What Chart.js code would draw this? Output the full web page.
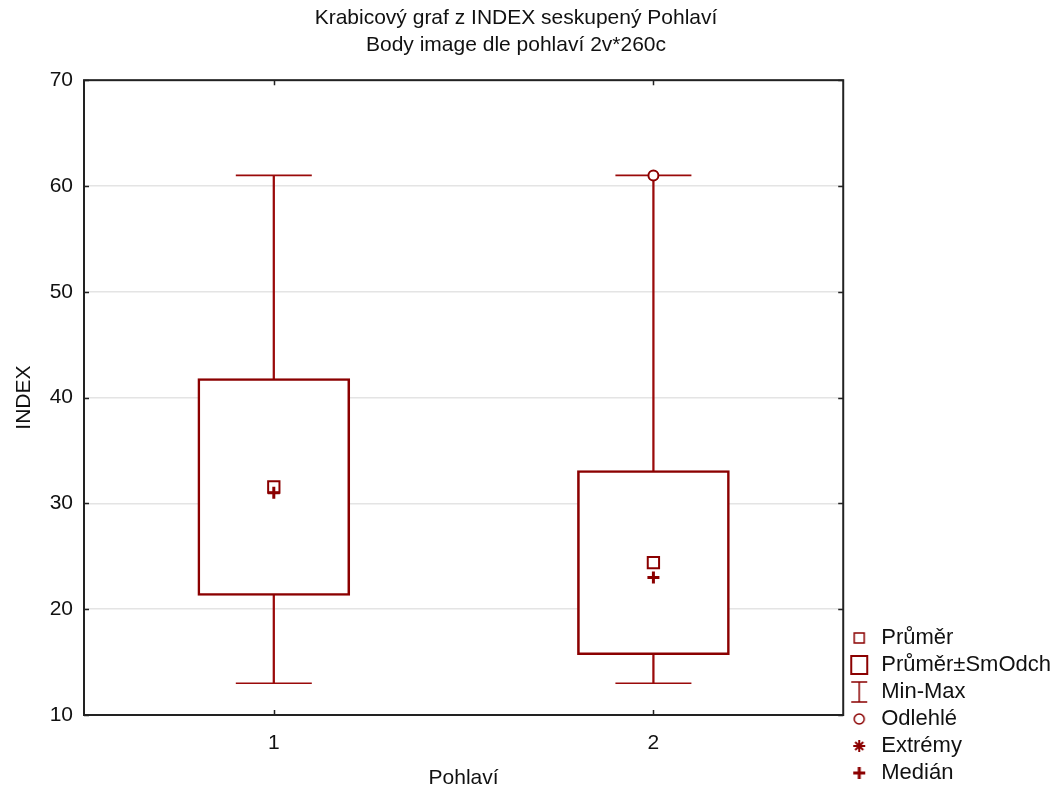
<!DOCTYPE html>
<html>
<head>
<meta charset="utf-8">
<script src="https://cdn.jsdelivr.net/npm/chart.js@4.4.1/dist/chart.umd.min.js"></script>
<style>
html,body{margin:0;padding:0;background:#fff;}
#wrap{width:1057px;height:789px;}
</style>
</head>
<body>
<div id="wrap"><canvas id="c" width="1057" height="789"></canvas></div>
<script>
const categories = ['1', '2'];
const minVals = [13, 13];
const maxVals = [61, 61];
const sdLow = [21.3, 15.7];
const sdHigh = [41.8, 33.1];
const means = [31.55, 24.4];
const medians = [31, 23];
const outliers = [null, 61];
const yTickMin = 10, yTickMax = 70, yTickStep = 10;
const legendLabels = ['Průměr', 'Průměr±SmOdch', 'Min-Max', 'Odlehlé', 'Extrémy', 'Medián'];
const titleLines = ['Krabicový graf z INDEX seskupený Pohlaví', 'Body image dle pohlaví 2v*260c'];

const RED = '#8b0000';
const FONT = "'Liberation Sans', Arial, sans-serif";

function icon(draw) {
  const c = document.createElement('canvas');
  c.width = 22; c.height = 24;
  const g = c.getContext('2d');
  g.strokeStyle = RED; g.fillStyle = RED;
  draw(g);
  return c;
}
const legendIcons = [
  icon(g => { g.lineWidth = 1.5; g.strokeRect(6, 7, 10, 10); }),
  icon(g => { g.lineWidth = 2; g.strokeRect(3, 3, 16, 18); }),
  icon(g => { g.lineWidth = 1.5; g.beginPath(); g.moveTo(3, 2); g.lineTo(19, 2); g.moveTo(11, 2); g.lineTo(11, 22); g.moveTo(3, 22); g.lineTo(19, 22); g.stroke(); }),
  icon(g => { g.lineWidth = 1.5; g.beginPath(); g.arc(11, 12, 5, 0, Math.PI * 2); g.stroke(); }),
  icon(g => { g.lineWidth = 2; g.beginPath(); g.moveTo(11, 6); g.lineTo(11, 18); g.moveTo(5, 12); g.lineTo(17, 12); g.moveTo(7, 8); g.lineTo(15, 16); g.moveTo(15, 8); g.lineTo(7, 16); g.stroke(); }),
  icon(g => { g.lineWidth = 3; g.beginPath(); g.moveTo(11, 6); g.lineTo(11, 18); g.moveTo(5, 12); g.lineTo(17, 12); g.stroke(); })
];

const frameAndTicks = {
  id: 'frameAndTicks',
  afterLayout(chart) {
    if (chart.titleBlock) chart.titleBlock.right -= 39;
  },
  afterDraw(chart) {
    const { ctx, chartArea: { left, right, top, bottom }, scales: { x, y } } = chart;
    ctx.save();
    ctx.strokeStyle = '#222';
    ctx.lineWidth = 1.5;
    y.ticks.forEach(t => {
      const py = Math.round(y.getPixelForValue(t.value)) + 0.5;
      ctx.beginPath();
      ctx.moveTo(left, py); ctx.lineTo(left + 5, py);
      ctx.moveTo(right - 5, py); ctx.lineTo(right, py);
      ctx.stroke();
    });
    categories.forEach((c, i) => {
      const px = Math.round(x.getPixelForValue(i)) + 0.5;
      ctx.beginPath();
      ctx.moveTo(px, bottom); ctx.lineTo(px, bottom - 5);
      ctx.moveTo(px, top); ctx.lineTo(px, top + 5);
      ctx.stroke();
    });
    ctx.lineWidth = 2;
    ctx.strokeRect(left, top, right - left, bottom - top);
    ctx.restore();
  }
};

new Chart(document.getElementById('c'), {
  data: {
    labels: categories,
    datasets: [
      { type: 'bar', label: 'Min-Max', data: categories.map((c, i) => [minVals[i], maxVals[i]]),
        backgroundColor: '#9a0a0a', borderWidth: 0, barThickness: 1.6, grouped: false, order: 6 },
      { type: 'bar', label: 'Průměr±SmOdch', data: categories.map((c, i) => [sdLow[i], sdHigh[i]]),
        backgroundColor: '#ffffff', borderColor: RED, borderWidth: 2.6, borderSkipped: false,
        barThickness: 152, grouped: false, order: 5 },
      { type: 'line', label: 'Max', data: maxVals, showLine: false, pointStyle: 'line',
        pointRadius: 38, pointHoverRadius: 38, borderColor: '#9a0a0a', pointBorderWidth: 1.6, pointHoverBorderWidth: 1.6, order: 4 },
      { type: 'line', label: 'Min', data: minVals, showLine: false, pointStyle: 'line',
        pointRadius: 38, pointHoverRadius: 38, borderColor: '#9a0a0a', pointBorderWidth: 1.6, pointHoverBorderWidth: 1.6, order: 3 },
      { type: 'line', label: 'Průměr', data: means, showLine: false, pointStyle: 'rect',
        pointRadius: 8, pointHoverRadius: 8, borderColor: RED, pointBackgroundColor: '#ffffff', pointBorderWidth: 2, order: 2 },
      { type: 'line', label: 'Medián', data: medians, showLine: false, pointStyle: 'cross',
        pointRadius: 6, pointHoverRadius: 6, borderColor: RED, pointBorderWidth: 3, pointHoverBorderWidth: 3, order: 1 },
      { type: 'line', label: 'Odlehlé', data: outliers, showLine: false, pointStyle: 'circle',
        pointRadius: 5, pointHoverRadius: 5, borderColor: RED, pointBackgroundColor: '#ffffff', pointBorderWidth: 2, order: 0 }
    ]
  },
  options: {
    responsive: false,
    animation: false,
    events: [],
    layout: { padding: { left: 10, right: -4, top: 0, bottom: 0 } },
    scales: {
      x: {
        type: 'category',
        offset: true,
        afterFit(scale) { scale.height = 74; },
        grid: { display: false, drawTicks: false },
        border: { display: false },
        ticks: { color: '#111', font: { family: FONT, size: 21 }, padding: 16 },
        title: { display: true, text: 'Pohlaví', color: '#111', font: { family: FONT, size: 21 }, padding: { top: 0, bottom: -2 } }
      },
      y: {
        min: yTickMin, max: yTickMax,
        afterFit(scale) { scale.width = 74; },
        grid: { color: '#e4e4e4', lineWidth: 1.5, drawTicks: false },
        border: { display: false },
        ticks: { stepSize: yTickStep, color: '#111', font: { family: FONT, size: 21 }, padding: 11 },
        title: { display: true, text: 'INDEX', color: '#111', font: { family: FONT, size: 21 }, padding: { top: 2, bottom: 0 } }
      }
    },
    plugins: {
      tooltip: { enabled: false },
      title: {
        display: true,
        text: titleLines,
        color: '#111',
        font: { family: FONT, size: 21, weight: 'normal', lineHeight: 1.29 },
        padding: { top: 5, bottom: 21 }
      },
      legend: {
        display: true,
        position: 'right',
        align: 'end',
        onClick: null,
        labels: {
          usePointStyle: true,
          color: '#111',
          font: { family: FONT, size: 22 },
          padding: 5,
          generateLabels: () => legendLabels.map((t, i) => ({
            text: t, pointStyle: legendIcons[i], fillStyle: RED, strokeStyle: RED,
            lineWidth: 0, hidden: false, datasetIndex: 0, fontColor: '#111'
          }))
        }
      }
    }
  },
  plugins: [frameAndTicks]
});
</script>
</body>
</html>
